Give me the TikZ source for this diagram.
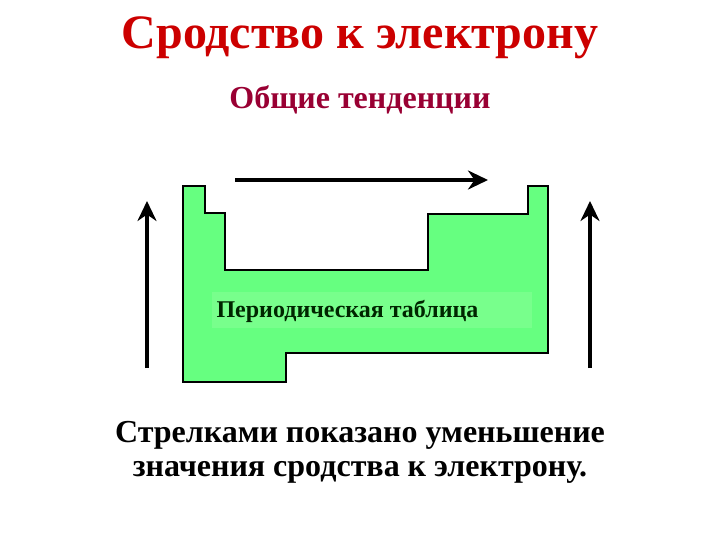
\documentclass[tikz,border=0pt]{standalone}
\usepackage{fontspec}
\setmainfont{Liberation Serif}
\usetikzlibrary{arrows.meta}
\definecolor{titlered}{RGB}{204,0,0}
\definecolor{subred}{RGB}{153,0,51}
\definecolor{tablegreen}{RGB}{102,255,128}
\definecolor{labelgreen}{RGB}{120,255,140}
\begin{document}
\begin{tikzpicture}[x=1pt,y=-1pt,>={Stealth[length=20pt,width=19pt]},
    trend/.style={->,line width=4.5pt}]
\useasboundingbox (0,0) rectangle (720,540);

\node[titlered,font=\fontsize{48}{52}\selectfont\bfseries] (title) at (360,38)
    {Сродство к электрону};
\node[subred,font=\fontsize{32}{36}\selectfont\bfseries] (sub) at (360,100)
    {Общие тенденции};

% periodic table outline
\draw[fill=tablegreen,line width=1.5pt]
    (183,186)--(205,186)--(205,213)--(225,213)--(225,270)
    --(428,270)--(428,214)--(528,214)--(528,186)--(548,186)
    --(548,353)--(286,353)--(286,382)--(183,382)--cycle;
\fill[labelgreen] (212,292) rectangle (532,328);
\node[anchor=west,font=\fontsize{24}{28}\selectfont\bfseries,text=black!85!green]
    (table) at (213,311) {Периодическая таблица};

% trends
\coordinate (h0) at (235,180);
\coordinate (h1) at (488,180);
\coordinate (l0) at (147,368);
\coordinate (l1) at (147,201);
\coordinate (r0) at (590,368);
\coordinate (r1) at (590,201);
\draw[trend] (h0)--(h1);
\draw[trend] (l0)--(l1);
\draw[trend] (r0)--(r1);

\node[align=center,font=\fontsize{32}{34}\selectfont\bfseries] (note) at (360,452)
    {Стрелками показано уменьшение\\значения сродства к электрону.};
\end{tikzpicture}
\end{document}
